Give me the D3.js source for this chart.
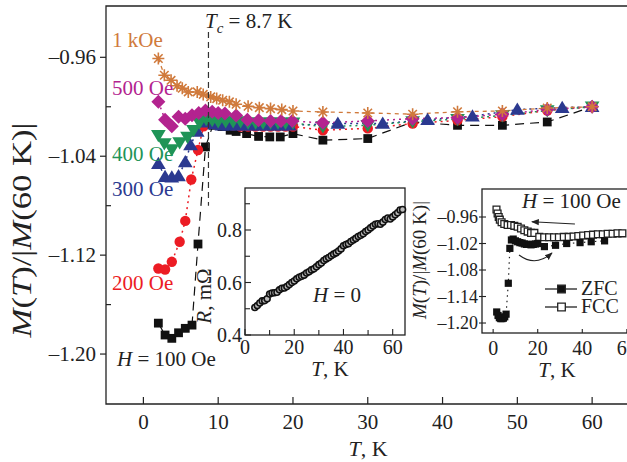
<!DOCTYPE html>
<html>
<head>
<meta charset="utf-8">
<script src="https://cdn.jsdelivr.net/npm/d3@7"></script>
<style>
  body { margin: 0; background: #fff; }
  svg { font-family: "Liberation Serif", "Times New Roman", serif; }
</style>
</head>
<body>
<svg id="chart" width="627" height="462"></svg>
<script>
// ---- main panel: M(T)/|M(60 K)| for several fields ----
const t1k = [2, 2.8, 3.7, 4.5, 5.2, 6, 7.2, 8, 9, 9.8, 10.6, 11.5, 12.4, 14, 15.5, 17, 18.5, 20, 24, 30, 36, 42, 48, 54, 60];
const m1k = [-0.961, -0.9745, -0.9786, -0.983, -0.985, -0.988, -0.988, -0.990, -0.992, -0.9934, -0.9947, -0.996, -0.998, -0.9996, -1.0007, -1.0015, -1.0023, -1.0034, -1.0042, -1.005, -1.006, -1.004, -1.0034, -1.001, -1.000];

const t500 = [2, 2.9, 3.8, 4.7, 5.6, 6.5, 7.4, 8.3, 9.2, 10, 10.9, 12.4, 13.9, 15.4, 17, 18.4, 19.9, 24, 30, 36, 42, 48, 54, 60];
const m500 = [-0.996, -1.0104, -1.0158, -1.008, -1.0096, -1.0069, -1.005, -1.003, -1.004, -1.005, -1.0055, -1.007, -1.0104, -1.011, -1.0115, -1.0115, -1.0115, -1.013, -1.0115, -1.0096, -1.0088, -1.006, -1.0023, -1.000];

const t400 = [2, 2.8, 3.8, 4.85, 5.9, 6.7, 7.5, 8.4, 9.2, 10, 11, 12, 13, 14, 15, 16, 17, 18, 19, 20, 24, 30, 36, 42, 48, 54, 60];
const m400 = [-1.023, -1.0297, -1.0346, -1.029, -1.0244, -1.019, -1.013, -1.010, -1.011, -1.012, -1.012, -1.012, -1.012, -1.013, -1.013, -1.013, -1.013, -1.013, -1.013, -1.013, -1.016, -1.015, -1.012, -1.010, -1.007, -1.003, -1.000];

const t300 = [2, 2.9, 3.8, 4.7, 5.6, 6.3, 7.2, 8.4, 9.5, 10.5, 11.5, 12.5, 13.5, 14.5, 15.5, 16.5, 17.5, 18.5, 19.5, 26, 32, 38, 44, 50, 56, 60];
const m300 = [-1.046, -1.0567, -1.057, -1.056, -1.0446, -1.031, -1.020, -1.0125, -1.014, -1.015, -1.015, -1.015, -1.015, -1.015, -1.015, -1.015, -1.015, -1.015, -1.015, -1.0136, -1.0136, -1.0104, -1.0077, -1.0023, -1.0007, -1.000];

const t200 = [2, 2.9, 3.8, 4.85, 5.6, 6.4, 7.3, 8.05, 9, 10, 11, 12, 13, 14, 15, 16, 17, 18, 19, 20, 24, 30, 36, 42, 48, 54, 60];
const m200 = [-1.1308, -1.1316, -1.1254, -1.1092, -1.0923, -1.0588, -1.035, -1.0158, -1.012, -1.013, -1.014, -1.015, -1.016, -1.016, -1.016, -1.016, -1.016, -1.016, -1.016, -1.016, -1.019, -1.0175, -1.0136, -1.011, -1.008, -1.003, -1.000];

const t100 = [2, 2.9, 3.8, 4.7, 5.6, 6.5, 7.3, 8.3, 9.3, 10.5, 11.6, 12.4, 13.8, 15.4, 16.9, 18.3, 20, 24, 30, 36, 42, 48, 54, 60];
const m100 = [-1.175, -1.1846, -1.1873, -1.1828, -1.1792, -1.1766, -1.111, -1.0325, -1.015, -1.016, -1.019, -1.020, -1.0217, -1.024, -1.0244, -1.0244, -1.0217, -1.027, -1.0257, -1.0123, -1.015, -1.015, -1.0123, -1.000];

const fieldLabels = ["1 kOe", "500 Oe", "400 Oe", "300 Oe", "200 Oe", "100 Oe"];
const mainXTicks = [0, 10, 20, 30, 40, 50, 60];
const mainYTicks = [-0.96, -1.04, -1.12, -1.20];
const mainYMinor = [-1.00, -1.08, -1.16];
const tc = 8.7;

// ---- inset 1: resistance at H = 0 ----
const rT = [4, 5, 6, 7, 8, 9, 10, 11, 12, 13, 14, 15, 16, 17, 18, 19, 20, 21, 22, 23, 24, 25, 26, 27, 28, 29, 30, 31, 32, 33, 34,
  35, 36, 37, 38, 39, 40, 41, 42, 43, 44, 45, 46, 47, 48, 49, 50, 51, 52, 53, 54, 55, 56, 57, 58, 59, 60, 61, 62, 63, 64];
const rVal = [0.505, 0.512, 0.522, 0.530, 0.531, 0.538, 0.556, 0.560, 0.561, 0.563, 0.572, 0.578, 0.579, 0.585, 0.592, 0.600, 0.606,
  0.614, 0.620, 0.624, 0.628, 0.636, 0.641, 0.648, 0.652, 0.660, 0.668, 0.674, 0.684, 0.690, 0.695, 0.702, 0.708, 0.713, 0.720,
  0.728, 0.740, 0.745, 0.748, 0.756, 0.762, 0.768, 0.775, 0.780, 0.786, 0.794, 0.800, 0.808, 0.815, 0.822, 0.824, 0.822, 0.830,
  0.840, 0.846, 0.842, 0.850, 0.858, 0.866, 0.876, 0.878];
const rXTicks = [0, 20, 40, 60];
const rXMinor = [10, 30, 50];
const rYTicks = [0.4, 0.6, 0.8];
const rYMinor = [0.5, 0.7, 0.9];

// ---- inset 2: ZFC / FCC at 100 Oe ----
const zfcT = [1.6, 2.2, 2.8, 3.4, 4, 4.6, 5.2, 5.8, 6.8, 7.5, 8.2, 9, 10, 11, 12, 13, 14, 15, 16, 17, 18, 19, 20, 23, 28, 33, 39, 44, 50];
const zfcM = [-1.175, -1.183, -1.188, -1.190, -1.190, -1.189, -1.186, -1.180, -1.110, -1.031, -1.012, -1.010, -1.014, -1.016,
  -1.018, -1.019, -1.021, -1.022, -1.022, -1.023, -1.022, -1.021, -1.020, -1.027, -1.024, -1.020, -1.018, -1.016, -1.014];
const fccT = [1.5, 2, 2.5, 3, 3.8, 5, 6.5, 8, 9.5, 11, 12.5, 14, 15.5, 17, 18.5, 20.7, 22.9, 25.1, 27.3, 29.5, 31.7, 33.9, 36.1,
  38.2, 40.4, 42.6, 44.8, 47, 49.2, 51.4, 53.6, 55.8, 58];
const fccM = [-0.943, -0.952, -0.960, -0.966, -0.972, -0.976, -0.978, -0.978, -0.980, -0.982, -0.986, -0.990, -0.993, -0.996,
  -0.996, -1.005, -1.006, -1.006, -1.006, -1.006, -1.005, -1.005, -1.004, -1.003, -1.002, -1.001, -1.000, -0.999, -0.999,
  -0.998, -0.998, -0.997, -0.997];
const zXTicks = [0, 20, 40, 60];
const zYTicks = [-0.96, -1.02, -1.08, -1.14, -1.20];

const svg = d3.select("#chart");
const ink = "#222";

// scales
const x = d3.scaleLinear().domain([-5, 66]).range([106, 637]);
const y = d3.scaleLinear().domain([-1.2404, -0.9185]).range([404, 6]);
const rx = d3.scaleLinear().domain([0, 65]).range([245, 405]);
const ry = d3.scaleLinear().domain([0.4, 0.96]).range([335, 188]);
const zx = d3.scaleLinear().domain([-5, 65]).range([482, 638]);
const zy = d3.scaleLinear().domain([-1.2226, -0.8966]).range([333, 189]);

const fmt2 = v => d3.format(".2f")(v);

// marker shapes
function shapePath(kind, s) {
  if (kind === "square") return `M${-s},${-s}H${s}V${s}H${-s}Z`;
  if (kind === "diamond") return `M0,${-s}L${s},0L0,${s}L${-s},0Z`;
  if (kind === "up") return `M0,${-s}L${s * 1.05},${s * 0.75}L${-s * 1.05},${s * 0.75}Z`;
  if (kind === "down") return `M0,${s}L${s * 1.05},${-s * 0.75}L${-s * 1.05},${-s * 0.75}Z`;
  if (kind === "star") {
    const d = s * 0.707;
    return `M${-s},0H${s}M0,${-s}V${s}M${-d},${-d}L${d},${d}M${-d},${d}L${d},${-d}`;
  }
  return "";
}

// ---- main frame ----
svg.append("path")
  .attr("d", `M${x(66) + 5},${y.range()[1]}H${x(-5)}V${y.range()[0]}H${x(66) + 5}`)
  .attr("fill", "none").attr("stroke", ink).attr("stroke-width", 1.3);

const gMain = svg.append("g");

gMain.selectAll(".xt").data(mainXTicks).enter().append("line")
  .attr("x1", d => x(d)).attr("x2", d => x(d))
  .attr("y1", 404).attr("y2", 397).attr("stroke", ink).attr("stroke-width", 1.2);
gMain.selectAll(".xl").data(mainXTicks).enter().append("text")
  .attr("x", d => x(d)).attr("y", 429).attr("text-anchor", "middle")
  .attr("font-size", 21).attr("fill", ink).text(d => d);

gMain.selectAll(".yt").data(mainYTicks).enter().append("line")
  .attr("x1", 100).attr("x2", 106)
  .attr("y1", d => y(d)).attr("y2", d => y(d)).attr("stroke", ink).attr("stroke-width", 1.2);
gMain.selectAll(".ym").data(mainYMinor).enter().append("line")
  .attr("x1", 106).attr("x2", 111)
  .attr("y1", d => y(d)).attr("y2", d => y(d)).attr("stroke", ink).attr("stroke-width", 1.2);
gMain.selectAll(".yl").data(mainYTicks).enter().append("text")
  .attr("x", 96).attr("y", d => y(d) + 7).attr("text-anchor", "end")
  .attr("font-size", 21).attr("fill", ink).text(d => "\u2013" + fmt2(-d));

// axis titles
const xt = svg.append("text").attr("x", 368).attr("y", 456).attr("text-anchor", "middle")
  .attr("font-size", 22).attr("fill", ink);
xt.append("tspan").attr("font-style", "italic").text("T");
xt.append("tspan").text(", K");

const yt = svg.append("text")
  .attr("transform", "translate(31,230) rotate(-90)")
  .attr("text-anchor", "middle").attr("font-size", 27).attr("fill", ink)
  .attr("textLength", 215).attr("lengthAdjust", "spacingAndGlyphs");
yt.append("tspan").attr("font-style", "italic").text("M");
yt.append("tspan").text("(");
yt.append("tspan").attr("font-style", "italic").text("T");
yt.append("tspan").text(")/|");
yt.append("tspan").attr("font-style", "italic").text("M");
yt.append("tspan").text("(60 K)|");

// Tc line
svg.append("line")
  .attr("x1", x(tc)).attr("x2", x(tc)).attr("y1", 32).attr("y2", y(-1.08))
  .attr("stroke", "#333").attr("stroke-width", 1.2).attr("stroke-dasharray", "6,4");
const tcl = svg.append("text").attr("x", 205).attr("y", 28).attr("font-size", 21).attr("fill", ink);
tcl.append("tspan").attr("font-style", "italic").text("T");
tcl.append("tspan").attr("font-style", "italic").attr("font-size", 15).attr("dy", 5).text("c");
tcl.append("tspan").attr("dy", -5).text(" = 8.7 K");

// series, in drawing order (bottom to top)
const series = [
  { t: t100, m: m100, label: fieldLabels[5], color: "#111", shape: "square", size: 4.4, dash: "9,6", lw: 1.2 },
  { t: t200, m: m200, label: fieldLabels[4], color: "#ec1c24", shape: "circle", size: 5.2, dash: "2,4", lw: 1.5 },
  { t: t300, m: m300, label: fieldLabels[3], color: "#2b3990", shape: "up", size: 7, dash: "2,4", lw: 1.5 },
  { t: t400, m: m400, label: fieldLabels[2], color: "#1f9457", shape: "down", size: 7, dash: "2,4", lw: 1.5 },
  { t: t500, m: m500, label: fieldLabels[1], color: "#b3238f", shape: "diamond", size: 7, dash: "2,4", lw: 1.5 },
  { t: t1k, m: m1k, label: fieldLabels[0], color: "#d07a3c", shape: "star", size: 6, dash: "4,4", lw: 1.3 }
];
const colorOf = label => series.find(s => s.label === label).color;

const line = d3.line().x(d => x(d[0])).y(d => y(d[1]));
series.forEach(s => {
  const pts = s.t.map((t, i) => [t, s.m[i]]);
  gMain.append("path").datum(pts).attr("d", line)
    .attr("fill", "none").attr("stroke", s.color)
    .attr("stroke-width", s.lw).attr("stroke-dasharray", s.dash);
});
series.forEach(s => {
  const pts = s.t.map((t, i) => [t, s.m[i]]);
  const g = gMain.append("g");
  if (s.shape === "circle") {
    g.selectAll("circle").data(pts).enter().append("circle")
      .attr("cx", d => x(d[0])).attr("cy", d => y(d[1])).attr("r", s.size).attr("fill", s.color);
  } else if (s.shape === "star") {
    g.selectAll("path").data(pts).enter().append("path")
      .attr("transform", d => `translate(${x(d[0])},${y(d[1])})`)
      .attr("d", shapePath("star", s.size)).attr("stroke", s.color).attr("stroke-width", 1.6).attr("fill", "none");
  } else {
    g.selectAll("path").data(pts).enter().append("path")
      .attr("transform", d => `translate(${x(d[0])},${y(d[1])})`)
      .attr("d", shapePath(s.shape, s.size)).attr("fill", s.color);
  }
});

// field labels
const labelPos = [
  { label: fieldLabels[0], px: 112, py: 47 },
  { label: fieldLabels[1], px: 112, py: 95 },
  { label: fieldLabels[2], px: 112, py: 161 },
  { label: fieldLabels[3], px: 112, py: 196 },
  { label: fieldLabels[4], px: 112, py: 290 }
];
labelPos.forEach(p => {
  svg.append("text").attr("x", p.px).attr("y", p.py).attr("font-size", 21)
    .attr("fill", colorOf(p.label)).text(p.label);
});
const hl = svg.append("text").attr("x", 117).attr("y", 366).attr("font-size", 21).attr("fill", ink);
hl.append("tspan").attr("font-style", "italic").text("H");
hl.append("tspan").text(" = " + fieldLabels[5]);

// ---- inset 1 ----
const g1 = svg.append("g");
g1.append("rect").attr("x", rx(0)).attr("y", ry(0.96)).attr("width", rx(65) - rx(0)).attr("height", ry(0.4) - ry(0.96))
  .attr("fill", "#fff").attr("stroke", ink).attr("stroke-width", 1.3);
g1.selectAll(".t").data(rXTicks.concat(rXMinor)).enter().append("line")
  .attr("x1", d => rx(d)).attr("x2", d => rx(d)).attr("y1", ry(0.4)).attr("y2", d => ry(0.4) - (rXTicks.includes(d) ? 6 : 5))
  .attr("stroke", ink).attr("stroke-width", 1.1);
g1.selectAll(".l").data(rXTicks).enter().append("text")
  .attr("x", d => rx(d)).attr("y", 354).attr("text-anchor", "middle").attr("font-size", 20).attr("fill", ink).text(d => d);
g1.selectAll(".yt").data(rYTicks.concat(rYMinor)).enter().append("line")
  .attr("x1", rx(0)).attr("x2", d => rx(0) + (rYTicks.includes(d) ? 6 : 5)).attr("y1", d => ry(d)).attr("y2", d => ry(d))
  .attr("stroke", ink).attr("stroke-width", 1.1);
g1.selectAll(".yl").data(rYTicks).enter().append("text")
  .attr("x", 242).attr("y", d => ry(d) + 7).attr("text-anchor", "end").attr("font-size", 20).attr("fill", ink)
  .text(d => d3.format(".1f")(d));
g1.selectAll("circle").data(rT.map((t, i) => [t, rVal[i]])).enter().append("circle")
  .attr("cx", d => rx(d[0])).attr("cy", d => ry(d[1])).attr("r", 3)
  .attr("fill", "#bbb").attr("stroke", "#111").attr("stroke-width", 1.6);
const h0 = g1.append("text").attr("x", 313).attr("y", 302).attr("font-size", 21).attr("fill", ink);
h0.append("tspan").attr("font-style", "italic").text("H");
h0.append("tspan").text(" = 0");
const rxl = g1.append("text").attr("x", 330).attr("y", 376).attr("text-anchor", "middle").attr("font-size", 21).attr("fill", ink);
rxl.append("tspan").attr("font-style", "italic").text("T");
rxl.append("tspan").text(", K");
const ryl = g1.append("text").attr("transform", "translate(211,296) rotate(-90)")
  .attr("text-anchor", "middle").attr("font-size", 21).attr("fill", ink);
ryl.append("tspan").attr("font-style", "italic").text("R");
ryl.append("tspan").text(", m\u03A9");

// ---- inset 2 ----
const g2 = svg.append("g");
g2.append("rect").attr("x", zx(-5)).attr("y", zy.range()[1]).attr("width", zx(65) - zx(-5) + 10)
  .attr("height", zy.range()[0] - zy.range()[1])
  .attr("fill", "#fff").attr("stroke", ink).attr("stroke-width", 1.3);
g2.selectAll(".yt").data(zYTicks).enter().append("line")
  .attr("x1", zx(-5) - 3).attr("x2", zx(-5) + 4).attr("y1", d => zy(d)).attr("y2", d => zy(d))
  .attr("stroke", ink).attr("stroke-width", 1.1);
g2.selectAll(".yl").data(zYTicks).enter().append("text")
  .attr("x", 478).attr("y", d => zy(d) + 6).attr("text-anchor", "end").attr("font-size", 18).attr("fill", ink)
  .text(d => "\u2013" + fmt2(-d));
g2.selectAll(".xt").data(zXTicks).enter().append("line")
  .attr("x1", d => zx(d)).attr("x2", d => zx(d)).attr("y1", 333).attr("y2", 329)
  .attr("stroke", ink).attr("stroke-width", 1.1);
g2.selectAll(".xl").data(zXTicks).enter().append("text")
  .attr("x", d => zx(d)).attr("y", 355).attr("text-anchor", "middle").attr("font-size", 20).attr("fill", ink).text(d => d);
const zxl = g2.append("text").attr("x", 557).attr("y", 377).attr("text-anchor", "middle").attr("font-size", 21).attr("fill", ink);
zxl.append("tspan").attr("font-style", "italic").text("T");
zxl.append("tspan").text(", K");
const zyl = g2.append("text").attr("transform", "translate(426,260) rotate(-90)")
  .attr("text-anchor", "middle").attr("font-size", 19).attr("fill", ink);
zyl.append("tspan").attr("font-style", "italic").text("M");
zyl.append("tspan").text("(");
zyl.append("tspan").attr("font-style", "italic").text("T");
zyl.append("tspan").text(")/|");
zyl.append("tspan").attr("font-style", "italic").text("M");
zyl.append("tspan").text("(60 K)|");

const zline = d3.line().x(d => zx(d[0])).y(d => zy(d[1]));
const zfcPts = zfcT.map((t, i) => [t, zfcM[i]]);
const fccPts = fccT.map((t, i) => [t, fccM[i]]);
g2.append("path").datum(zfcPts).attr("d", zline).attr("fill", "none")
  .attr("stroke", ink).attr("stroke-width", 1.2).attr("stroke-dasharray", "1.5,4");
g2.selectAll(".fcc").data(fccPts).enter().append("path")
  .attr("transform", d => `translate(${zx(d[0])},${zy(d[1])})`)
  .attr("d", shapePath("square", 3.4)).attr("fill", "#fff").attr("stroke", ink).attr("stroke-width", 1.3);
g2.selectAll(".zfc").data(zfcPts).enter().append("path")
  .attr("transform", d => `translate(${zx(d[0])},${zy(d[1])})`)
  .attr("d", shapePath("square", 3.6)).attr("fill", "#111");

// arrows
const defs = svg.append("defs");
defs.append("marker").attr("id", "ah").attr("viewBox", "0 0 10 10").attr("refX", 9).attr("refY", 5)
  .attr("markerWidth", 7).attr("markerHeight", 7).attr("orient", "auto")
  .append("path").attr("d", "M0,1L10,5L0,9Z").attr("fill", ink);
g2.append("line").attr("x1", zx(36.7)).attr("y1", zy(-0.9758)).attr("x2", zx(17.4)).attr("y2", zy(-0.9706))
  .attr("stroke", ink).attr("stroke-width", 1.1).attr("marker-end", "url(#ah)");
g2.append("path")
  .attr("d", `M${zx(11.6)},${zy(-1.046)}Q${zx(19)},${zy(-1.074)} ${zx(26.4)},${zy(-1.0415)}`)
  .attr("fill", "none").attr("stroke", ink).attr("stroke-width", 1.1).attr("marker-end", "url(#ah)");

const h2 = g2.append("text").attr("x", 522).attr("y", 208).attr("font-size", 21).attr("fill", ink);
h2.append("tspan").attr("font-style", "italic").text("H");
h2.append("tspan").text(" = " + fieldLabels[5]);

// legend
const legend = [
  { name: "ZFC", fill: "#111", yy: 289 },
  { name: "FCC", fill: "#fff", yy: 307 }
];
legend.forEach(l => {
  g2.append("line").attr("x1", 545).attr("x2", 577).attr("y1", l.yy).attr("y2", l.yy).attr("stroke", ink).attr("stroke-width", 1.3);
  g2.append("path").attr("transform", `translate(561.5,${l.yy})`).attr("d", shapePath("square", 3.8))
    .attr("fill", l.fill).attr("stroke", ink).attr("stroke-width", 1.3);
  g2.append("text").attr("x", 581).attr("y", l.yy + 6).attr("font-size", 20).attr("fill", ink).text(l.name);
});
</script>
</body>
</html>
